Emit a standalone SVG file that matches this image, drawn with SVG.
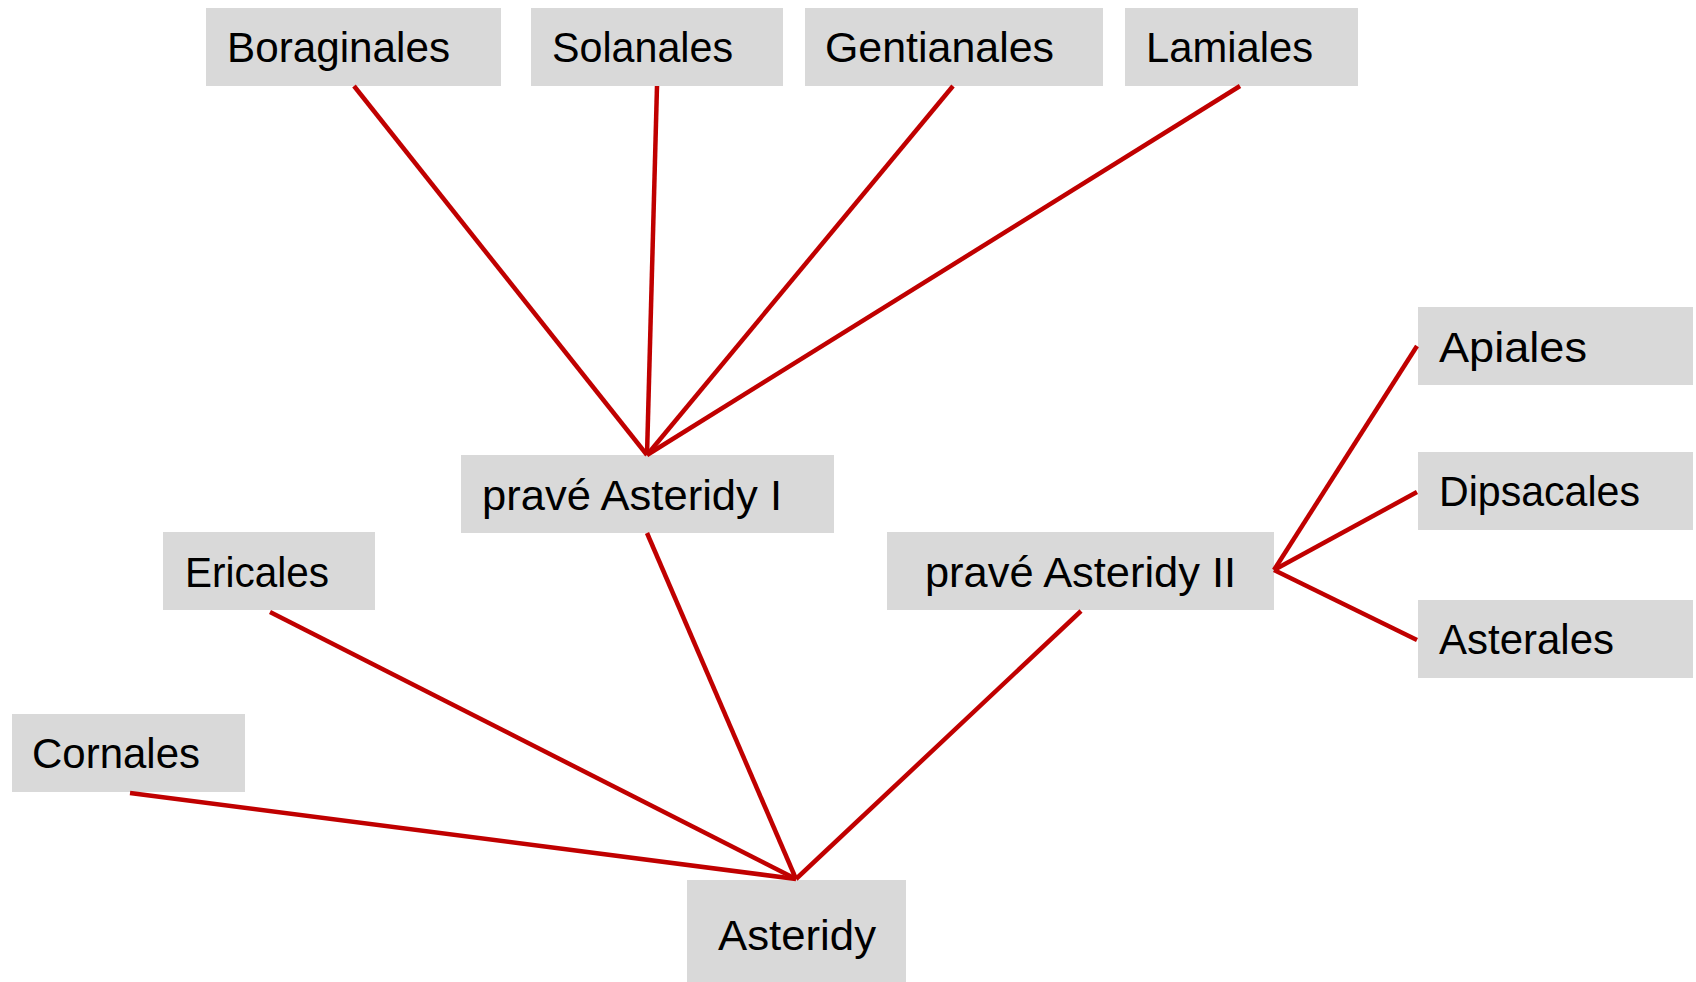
<svg xmlns="http://www.w3.org/2000/svg" width="1696" height="982" viewBox="0 0 1696 982">
<style>
.box{fill:#D9D9D9;}
.lbl{font-family:"Liberation Sans",Arial,sans-serif;font-size:42px;fill:#000;}
.edge{stroke:#C00000;stroke-width:4.5;stroke-linecap:butt;fill:none;}
</style>
<rect width="1696" height="982" fill="#FFFFFF"/>
<g id="Boraginales"><rect class="box" x="206" y="8" width="295" height="78"/><text class="lbl" x="227" y="62" textLength="223" lengthAdjust="spacingAndGlyphs">Boraginales</text></g>
<g id="Solanales"><rect class="box" x="531" y="8" width="252" height="78"/><text class="lbl" x="552" y="62" textLength="181" lengthAdjust="spacingAndGlyphs">Solanales</text></g>
<g id="Gentianales"><rect class="box" x="805" y="8" width="298" height="78"/><text class="lbl" x="825" y="62" textLength="229" lengthAdjust="spacingAndGlyphs">Gentianales</text></g>
<g id="Lamiales"><rect class="box" x="1125" y="8" width="233" height="78"/><text class="lbl" x="1146" y="62" textLength="167" lengthAdjust="spacingAndGlyphs">Lamiales</text></g>
<g id="Apiales"><rect class="box" x="1418" y="307" width="275" height="78"/><text class="lbl" x="1439" y="362" textLength="148" lengthAdjust="spacingAndGlyphs">Apiales</text></g>
<g id="Dipsacales"><rect class="box" x="1418" y="452" width="275" height="78"/><text class="lbl" x="1439" y="506" textLength="201" lengthAdjust="spacingAndGlyphs">Dipsacales</text></g>
<g id="Asterales"><rect class="box" x="1418" y="600" width="275" height="78"/><text class="lbl" x="1439" y="654" textLength="175" lengthAdjust="spacingAndGlyphs">Asterales</text></g>
<g id="praveAsteridyI"><rect class="box" x="461" y="455" width="373" height="78"/><text class="lbl" x="482" y="510" textLength="300" lengthAdjust="spacingAndGlyphs">pravé Asteridy I</text></g>
<g id="praveAsteridyII"><rect class="box" x="887" y="532" width="387" height="78"/><text class="lbl" x="925" y="587" textLength="311" lengthAdjust="spacingAndGlyphs">pravé Asteridy II</text></g>
<g id="Ericales"><rect class="box" x="163" y="532" width="212" height="78"/><text class="lbl" x="185" y="587" textLength="144" lengthAdjust="spacingAndGlyphs">Ericales</text></g>
<g id="Cornales"><rect class="box" x="12" y="714" width="233" height="78"/><text class="lbl" x="32" y="768" textLength="168" lengthAdjust="spacingAndGlyphs">Cornales</text></g>
<g id="Asteridy"><rect class="box" x="687" y="880" width="219" height="102"/><text class="lbl" x="718" y="950" textLength="158" lengthAdjust="spacingAndGlyphs">Asteridy</text></g>
<g id="connectors">
<line class="edge" x1="354" y1="86" x2="647" y2="455"/>
<line class="edge" x1="657" y1="86" x2="647" y2="455"/>
<line class="edge" x1="953" y1="86" x2="647" y2="455"/>
<line class="edge" x1="1240" y1="86" x2="647" y2="455"/>
<line class="edge" x1="1417" y1="346" x2="1274" y2="570"/>
<line class="edge" x1="1417" y1="492" x2="1274" y2="570"/>
<line class="edge" x1="1417" y1="640" x2="1274" y2="570"/>
<line class="edge" x1="647" y1="533" x2="796" y2="879"/>
<line class="edge" x1="270" y1="612" x2="796" y2="879"/>
<line class="edge" x1="130" y1="793" x2="796" y2="879"/>
<line class="edge" x1="1081" y1="611" x2="796" y2="879"/>
</g>
</svg>
